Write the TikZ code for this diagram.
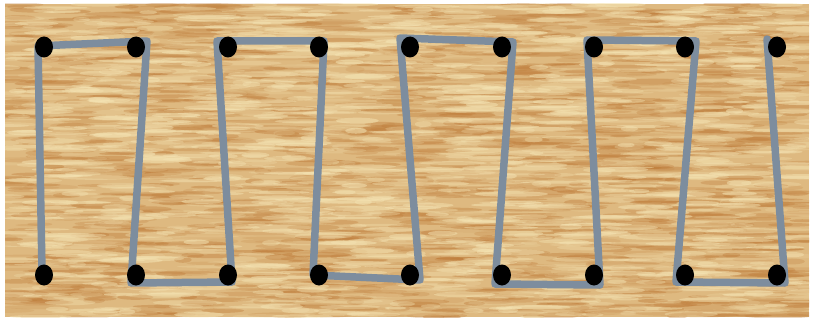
\documentclass[tikz,border=0pt]{standalone}
\usetikzlibrary{shapes.geometric}

\definecolor{woodbase}{RGB}{222,185,128}
\definecolor{wooddark}{RGB}{190,122,56}
\definecolor{woodlight}{RGB}{246,230,182}
\definecolor{stringgray}{RGB}{125,141,158}

\begin{document}
\begin{tikzpicture}[x=1pt,y=-1pt,
  peg/.style={ellipse,fill=black,inner sep=0pt,minimum width=18pt,minimum height=21pt},
  string/.style={line width=7.5pt,stringgray,line join=round,line cap=round}]

\useasboundingbox (0,0) rectangle (813,321);

%---------------- Wood board ----------------
\fill[woodbase] (5,4) rectangle (809,317);
\begin{scope}
\clip (5,4) rectangle (809,317);
\pgfmathsetseed{17}
% dark grain
\foreach \i in {1,...,1700}{
  \pgfmathsetmacro\gx{5+804*rnd}
  \pgfmathsetmacro\gy{4+313*rnd}
  \pgfmathsetmacro\gl{8+30*rnd}
  \pgfmathsetmacro\gh{1+2*rnd}
  \pgfmathsetmacro\go{0.12+0.3*rnd}
  \fill[wooddark,opacity=\go] (\gx,\gy) ellipse [x radius=\gl pt,y radius=\gh pt];
}
% light grain
\foreach \i in {1,...,1500}{
  \pgfmathsetmacro\gx{5+804*rnd}
  \pgfmathsetmacro\gy{4+313*rnd}
  \pgfmathsetmacro\gl{8+30*rnd}
  \pgfmathsetmacro\gh{1+2*rnd}
  \pgfmathsetmacro\go{0.15+0.35*rnd}
  \fill[woodlight,opacity=\go] (\gx,\gy) ellipse [x radius=\gl pt,y radius=\gh pt];
}
\end{scope}

%---------------- String corners ----------------
\coordinate (s0) at (42,272);
\coordinate (c1) at (38,46);
\coordinate (c2) at (147,41);
\coordinate (c3) at (131,283);
\coordinate (c4) at (232,282);
\coordinate (c5) at (217,41);
\coordinate (c6) at (324,41);
\coordinate (c7) at (313,275);
\coordinate (c8) at (420,280);
\coordinate (c9) at (400,38);
\coordinate (c10) at (513,42);
\coordinate (c11) at (495,284);
\coordinate (c12) at (600,285);
\coordinate (c13) at (587,40);
\coordinate (c14) at (696,41);
\coordinate (c15) at (676,282);
\coordinate (c16) at (785,283);
\coordinate (c17) at (767,39);

% String
\draw[string] (s0) -- (c1) -- (c2) -- (c3) -- (c4) -- (c5) -- (c6) -- (c7) -- (c8)
  -- (c9) -- (c10) -- (c11) -- (c12) -- (c13) -- (c14) -- (c15) -- (c16) -- (c17);

%---------------- Pegs ----------------
\foreach \n/\px in {1/44,2/136,3/228,4/319,5/410,6/502,7/594,8/685,9/777}{
  \node[peg] (t\n) at (\px,47) {};
  \node[peg] (b\n) at (\px,275) {};
}

\end{tikzpicture}
\end{document}
